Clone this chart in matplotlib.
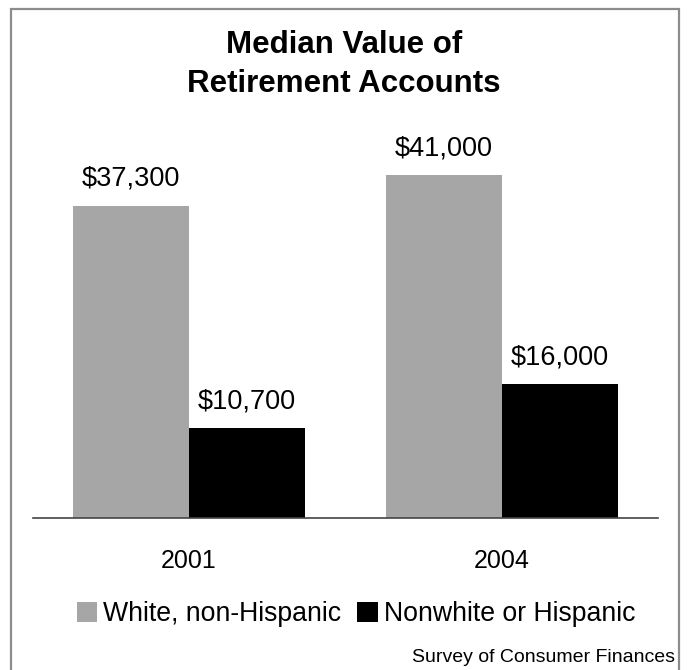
import numpy as np
import matplotlib.pyplot as plt
from matplotlib.patches import Rectangle

plt.rcParams['font.family'] = ['Liberation Sans', 'DejaVu Sans']

# median value of retirement accounts, in dollars
years = ['2001', '2004']
white = [37300, 41000]
nonwhite = [10700, 16000]
series_names = ['White, non-Hispanic', 'Nonwhite or Hispanic']
colors = ['#a6a6a6', '#000000']

W, H = 688, 670
fig = plt.figure(figsize=(W / 100, H / 100), dpi=100)

# gray frame round the whole chart
fig.patches.append(Rectangle((11 / W, -0.01), 668 / W, (H - 9) / H + 0.01,
                             transform=fig.transFigure, fill=False,
                             edgecolor='#8c8c8c', linewidth=1.6))

fig.text(0.5, 1 - 53 / H, 'Median Value of', ha='center', va='baseline',
         fontsize=22.5, fontweight='bold')
fig.text(0.5, 1 - 92 / H, 'Retirement Accounts', ha='center', va='baseline',
         fontsize=22.5, fontweight='bold')

ax = fig.add_axes([33 / W, (H - 518) / H, 625 / W, 378 / H])
x = np.arange(len(years))
w = 116 / 313
ax.bar(x - w / 2, white, w, color=colors[0], label=series_names[0])
ax.bar(x + w / 2, nonwhite, w, color=colors[1], label=series_names[1])

ax.set_xlim((33 - 189) / 313, (658 - 189) / 313)
ax.set_ylim(0, 378 / 8.365 * 1000)

for xi, v in zip(x - w / 2, white):
    ax.annotate(f'${v:,}', (xi, v), xytext=(0, 20), textcoords='offset pixels',
                ha='center', va='baseline', fontsize=19.5)
for xi, v in zip(x + w / 2, nonwhite):
    ax.annotate(f'${v:,}', (xi, v), xytext=(0, 20), textcoords='offset pixels',
                ha='center', va='baseline', fontsize=19.5)

for s in ['top', 'right', 'left']:
    ax.spines[s].set_visible(False)
ax.spines['bottom'].set_color('#444444')
ax.spines['bottom'].set_linewidth(1.2)
ax.set_yticks([])
ax.set_xticks([])

# year labels under each pair of bars
for xi, yr in zip(x, years):
    ax.text(xi, -(568 - 518) / 378, yr, transform=ax.get_xaxis_transform(),
            ha='center', va='baseline', fontsize=18)

ax.legend(loc='center', bbox_to_anchor=((356 - 33) / 625, (518 - 614) / 378),
          ncol=2, frameon=False, fontsize=19.2, handlelength=0.78,
          handleheight=0.78, handletextpad=0.22, columnspacing=0.6, borderpad=0)

fig.text(675 / W, 1 - 662 / H, 'Survey of Consumer Finances', ha='right',
         va='baseline', fontsize=14)

fig.savefig('out.png', dpi=100)
